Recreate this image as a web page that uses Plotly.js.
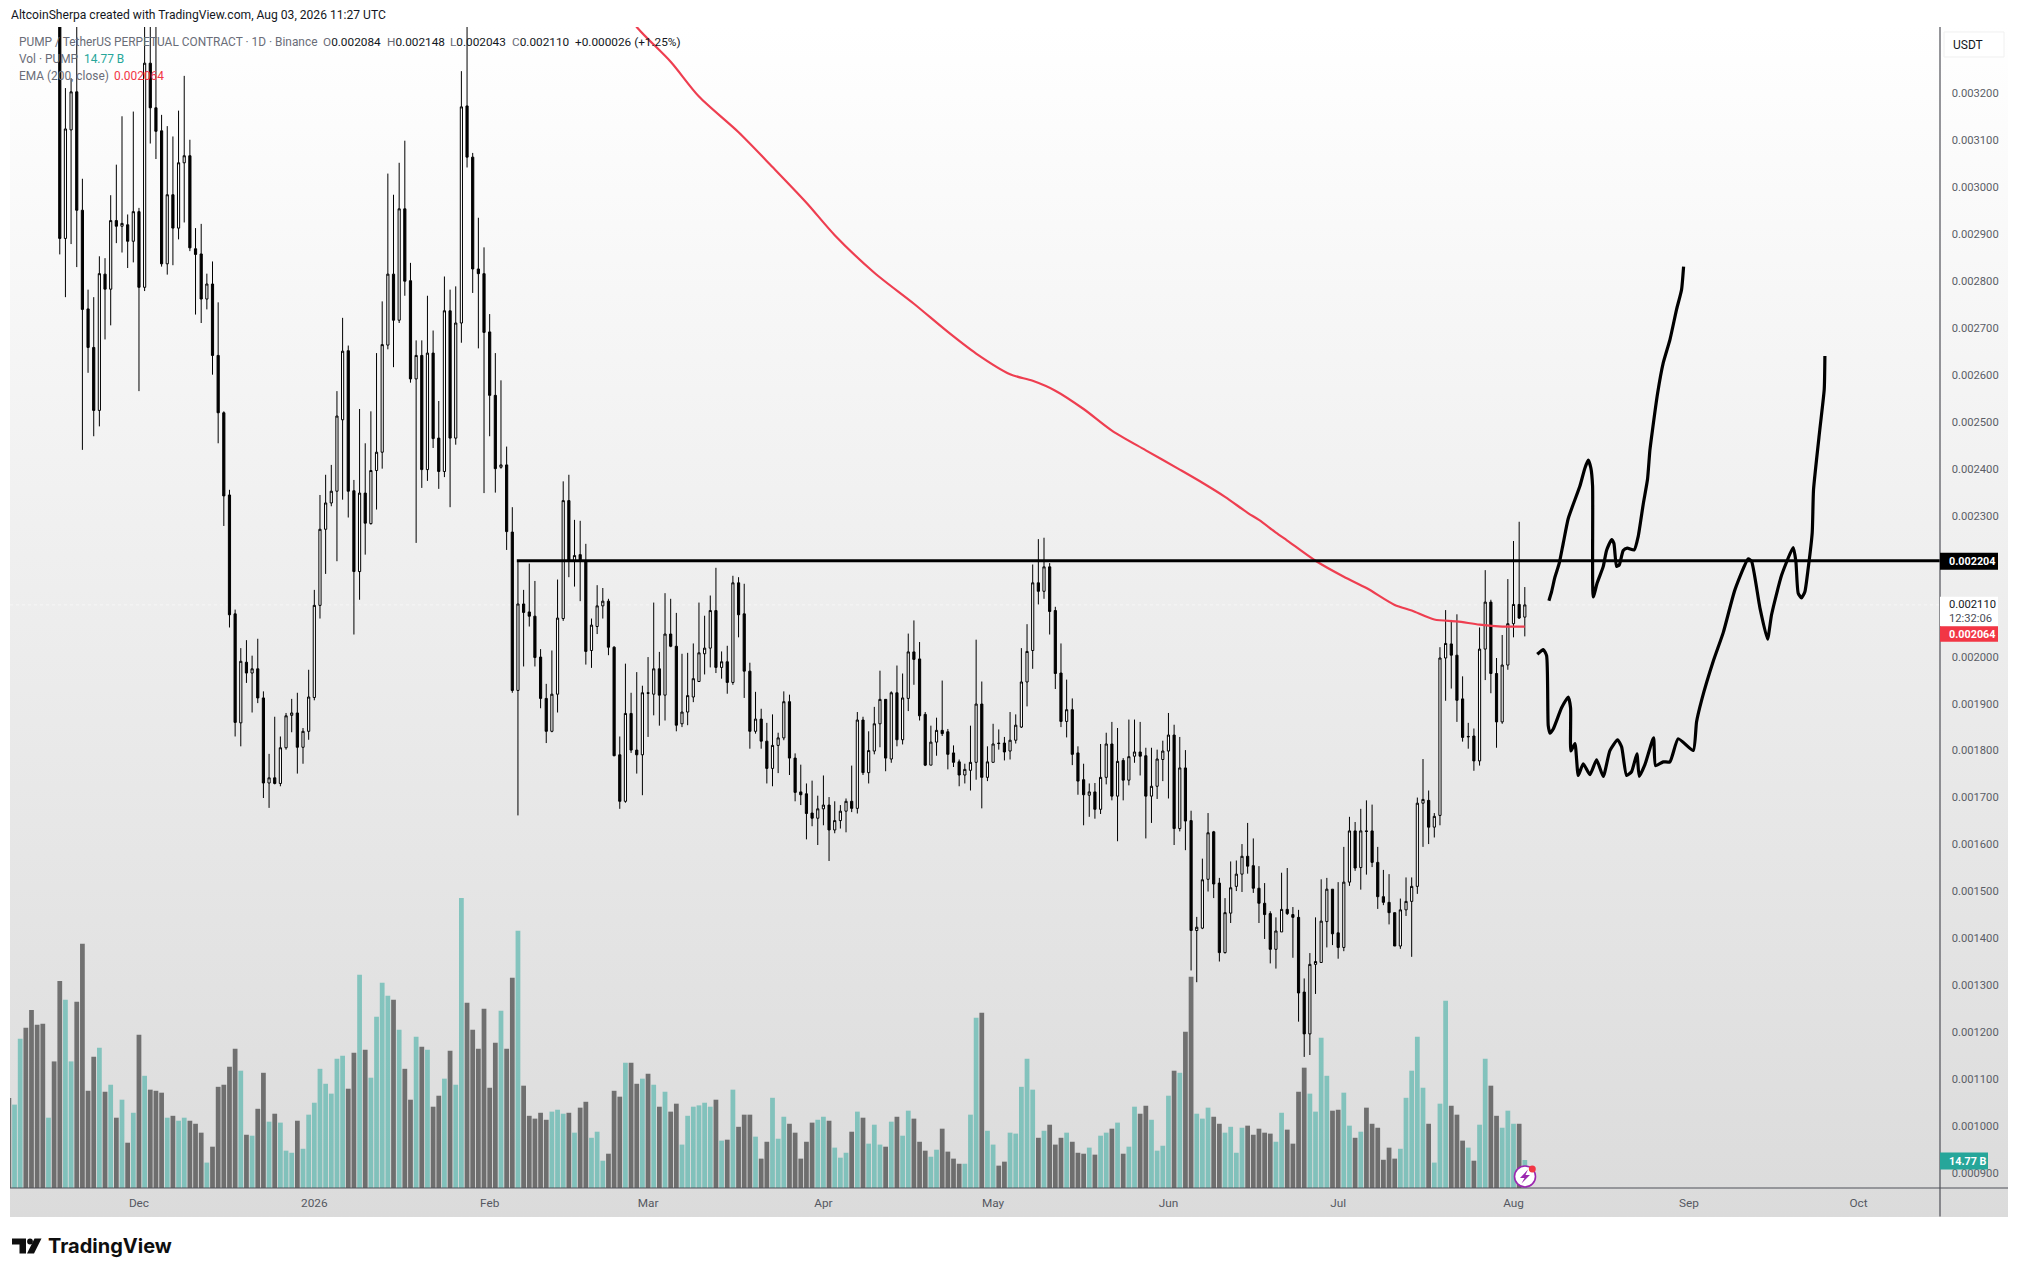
<!DOCTYPE html>
<html>
<head>
<meta charset="utf-8">
<script src="https://cdn.plot.ly/plotly-3.0.1.min.js"></script>
<style>
html,body{margin:0;padding:0;background:#fff;width:2018px;height:1277px;overflow:hidden}
#bg{position:absolute;left:10px;top:27px;width:1998px;height:1190px;background:linear-gradient(to bottom,#ffffff 0%,#dbdbdb 100%)}
#chart{position:absolute;left:0;top:0;width:2018px;height:1277px}
</style>
</head>
<body>
<div id="bg"></div>
<div id="chart"></div>
<script>
// first bar is 2025-11-08 (day -23 counted from 2025-12-01); last bar is 2026-08-03
const firstDay = -23;
// prices in millionths of USDT
const open = [
4300,4150,4300,4450,4200,4000,3850,3700,3900,3600,
2890,3121,3202,2950,2740,2658,2524,2814,2782,2928,2916,2919,2884,
2947,2786,3263,3168,3119,2836,2983,2912,3051,3066,
2868,2857,2761,2793,2641,2519,2344,2091,1859,1988,
1965,1974,1912,1731,1742,1730,1806,1875,1880,1807,
1841,1913,2109,2271,2327,2352,2504,2651,2353,2181,
2348,2283,2396,2435,2663,2814,2716,2953,2800,2591,
2641,2398,2646,2465,2394,2736,2465,2710,3172,3063,
2825,2815,2691,2556,2403,2408,2265,1928,2112,2095,
2086,1999,1911,1841,1920,2081,2332,2203,2217,2203,
2013,2064,2108,2118,2020,1791,1692,1879,1801,1791,
1923,1920,1974,1918,2048,2022,1857,1882,1914,1947,
2006,2018,2098,1977,1989,1945,2157,2091,1969,1841,
1867,1820,1762,1811,1827,1904,1784,1712,1708,1667,
1656,1676,1684,1631,1651,1671,1692,1677,1865,1753,
1799,1857,1909,1782,1923,1823,1911,2010,1995,1877,
1769,1818,1843,1840,1795,1776,1748,1758,1775,1899,
1743,1775,1816,1816,1799,1822,1850,1946,2013,2157,
2139,2191,2098,1965,1862,1887,1795,1738,1705,1712,
1675,1743,1814,1703,1779,1737,1788,1797,1789,1703,
1724,1781,1799,1833,1634,1763,1651,1417,1422,1526,
1627,1518,1370,1454,1511,1537,1575,1555,1507,1475,
1453,1377,1414,1462,1451,1445,1286,1197,1345,1349,
1436,1505,1412,1381,1520,1629,1551,1629,1629,1562,
1489,1477,1455,1384,1461,1479,1511,1688,1694,1637,
1662,1997,2027,2003,1910,1829,1831,1778,2016,2116,
1964,1861,1982,2070,2111,2084];
const high = [
4380,4350,4520,4480,4250,4060,3900,3950,3950,3640,
3210,3231,3400,3017,2781,2765,2852,2848,2982,3047,3150,2941,3160,
2955,3360,3370,3345,3153,3129,3107,3162,3236,3100,
2912,2921,2815,2841,2754,2522,2355,2100,2018,2035,
2002,2038,1926,1793,1872,1830,1880,1910,1923,1848,
1972,2142,2344,2387,2408,2565,2721,2662,2376,2527,
2454,2522,2646,2756,3028,2983,3051,3098,2838,2673,
2673,2768,2694,2544,2809,2781,2788,3246,3420,3072,
2934,2871,2729,2646,2588,2447,2318,2203,2142,2198,
2161,2016,1942,2013,2164,2373,2387,2291,2289,2240,
2081,2152,2146,2123,2022,1830,1985,1923,1967,1938,
1999,2115,2010,2135,2123,2093,2006,2008,2028,2115,
2087,2130,2189,2011,2023,2172,2169,2155,1987,1925,
1889,1859,1877,1838,1926,1919,1794,1770,1730,1736,
1704,1747,1701,1692,1684,1698,1768,1882,1872,1841,
1893,1970,1909,1926,1981,1964,2049,2077,2031,1882,
1853,1870,1949,1846,1811,1781,1772,1853,2036,1947,
1809,1857,1845,1829,1882,1877,2018,2069,2196,2250,
2253,2199,2106,2028,1951,1911,1809,1772,1730,1731,
1814,1838,1861,1848,1784,1866,1866,1861,1806,1806,
1802,1821,1880,1855,1829,1801,1672,1446,1570,1667,
1629,1529,1486,1564,1566,1601,1646,1613,1554,1518,
1458,1445,1540,1550,1467,1461,1315,1369,1445,1526,
1529,1505,1520,1595,1659,1648,1676,1694,1685,1595,
1546,1537,1455,1485,1530,1530,1700,1782,1715,1667,
2020,2099,2078,2090,1958,1859,1847,2062,2184,2121,
1997,2046,2165,2246,2287,2148];
const low = [
4100,4100,4250,4150,3950,3800,3650,3650,3550,2856,
2765,2878,2829,2440,2604,2469,2490,2675,2705,2880,2860,2827,2839,
2565,2778,3092,3059,2830,2813,2833,2888,2924,2863,
2728,2710,2739,2600,2454,2278,2062,1830,1809,1944,
1881,1901,1699,1678,1728,1724,1802,1839,1751,1772,
1823,1907,2081,2176,2320,2203,2334,2296,2047,2121,
2217,2281,2313,2400,2654,2616,2710,2768,2583,2242,
2359,2374,2444,2357,2382,2318,2451,2668,3041,2774,
2656,2348,2469,2349,2400,2227,1923,1662,1979,2064,
1979,1890,1816,1839,1881,2076,2169,2149,2118,1983,
1976,2048,2081,2003,1788,1676,1689,1795,1751,1705,
1829,1875,1853,1864,2020,1841,1850,1854,1903,1947,
1962,1977,1965,1953,1921,1940,2041,1912,1804,1836,
1804,1730,1724,1752,1822,1748,1692,1684,1611,1639,
1599,1641,1565,1624,1634,1626,1669,1666,1748,1730,
1792,1807,1756,1774,1809,1813,1884,1940,1864,1767,
1769,1789,1831,1760,1765,1724,1730,1715,1738,1677,
1735,1775,1802,1779,1781,1815,1848,1894,1974,2111,
2123,2047,1931,1850,1828,1769,1706,1641,1659,1655,
1665,1728,1694,1607,1694,1726,1774,1747,1613,1646,
1697,1735,1698,1599,1628,1588,1332,1307,1420,1500,
1486,1351,1368,1433,1501,1499,1538,1497,1433,1399,
1347,1336,1414,1450,1359,1223,1148,1152,1282,1349,
1381,1386,1357,1373,1512,1544,1504,1536,1552,1463,
1471,1430,1384,1378,1448,1361,1495,1595,1601,1615,
1641,1906,1932,1861,1819,1804,1757,1768,1950,1922,
1806,1857,1972,2041,2080,2043];
const close = [
4150,4300,4450,4200,4000,3850,3700,3900,3600,2890,
3123,3202,2950,2739,2658,2524,2815,2782,2928,2916,2922,2884,2947,
2786,3263,3168,3118,2836,2983,2912,3051,3066,2870,
2856,2761,2793,2641,2519,2342,2089,1860,1990,1965,
1974,1912,1731,1742,1730,1806,1874,1880,1807,1841,
1914,2109,2271,2327,2352,2512,2650,2352,2181,2348,
2284,2396,2435,2664,2814,2716,2953,2799,2591,2641,
2398,2646,2464,2394,2736,2465,2710,3170,3063,2825,
2815,2690,2556,2400,2408,2266,1928,2112,2094,2086,
1998,1911,1841,1920,2082,2332,2203,2215,2204,2011,
2067,2108,2118,2020,1789,1692,1879,1801,1791,1923,
1922,1974,1918,2048,2022,1854,1882,1917,1953,2008,
2018,2098,1977,1989,1945,2157,2089,1969,1841,1867,
1820,1762,1811,1827,1904,1784,1711,1706,1666,1656,
1676,1684,1631,1651,1671,1692,1677,1865,1753,1800,
1857,1909,1784,1923,1823,1912,2010,1994,1874,1769,
1818,1843,1836,1792,1775,1748,1760,1775,1899,1743,
1776,1814,1815,1797,1822,1854,1946,2011,2157,2139,
2191,2096,1964,1862,1887,1792,1735,1706,1712,1675,
1743,1814,1703,1777,1737,1787,1797,1788,1703,1724,
1782,1799,1833,1634,1763,1650,1417,1424,1525,1625,
1516,1370,1455,1508,1537,1575,1554,1507,1475,1451,
1377,1416,1462,1453,1445,1284,1197,1345,1351,1437,
1505,1410,1381,1520,1629,1550,1629,1628,1562,1489,
1477,1455,1384,1461,1479,1511,1688,1696,1637,1660,
1997,2028,2003,1907,1828,1830,1778,2016,2116,1964,
1861,1982,2070,2111,2082,2110];
// volume in billions of PUMP
const volume = [
47.5,44,78.8,84.6,94,86.1,86.7,37.1,66.8,109.3,99.3,66.8,98.3,128.9,51.3,69.3,74,50.8,54.5,37.1,46.6,23.9,39.7,
80.9,59.2,51.9,51.3,50.3,37.1,38.1,35.5,37.1,35.5,33.9,29.2,13.4,21.8,53.4,54.5,64,73.5,61.9,28.1,27.6,41.8,60.8,35,39.2,34.5,19.7,18.6,35.5,20.7,
38.7,45,62.9,55,49.8,68.2,69.8,52.4,71.4,112.5,73,58.2,90.4,108.3,101.4,99.3,83.5,62.9,46.6,79.8,74.5,73,42.9,48.7,57.7,72.4,54.5,153.1,97.7,83.5,
73.5,94.6,52.9,76.6,93.5,73.5,110.9,135.7,54,38.1,36.6,39.7,36,40.3,41.3,39.2,39.7,29.2,42.4,45.5,26.5,29.7,14.4,18.1,51.3,48.2,66.1,66.1,55,57.7,
60.3,54.5,42.9,50.8,40.3,44.5,22.9,38.1,42.9,43.6,45,42.9,46.6,25,25.5,51.9,32.3,38.7,38.7,27.1,15.5,24.4,47.6,26,37.6,33.9,29.2,15.5,24.4,34.5,
36,37.6,35.5,21.3,16,18.6,29.7,40.3,37.1,23.4,33.4,22.9,21.8,35,37.6,27.6,40.8,36.6,24.4,19.7,16.5,20.2,31.3,19.2,15.5,12.8,12.8,38.7,89.8,92.5,
30.2,22.9,11.8,13.9,29.2,28.7,53.4,68.2,51.9,26.5,30.2,33.4,22.9,26.5,29.2,24.4,18.6,18.1,21.3,17.6,27.6,29.2,31.3,34.5,18.1,21.8,42.9,39.2,43.4,36,
19.7,22.3,48.7,61.9,60.8,82.5,111.5,39.2,36.6,42.4,37.6,33.9,29.2,32.3,18.6,31.8,32.9,28.1,31.3,29.2,28.7,24.4,39.7,30.8,23.4,50.8,63.5,49.8,40.3,79.3,
59.2,40.8,41.3,50.3,32.9,26.5,29.7,42.4,33.9,31.8,14.9,21.3,15.5,20.7,47.6,61.9,79.8,52.9,33.9,13.4,44.5,98.8,43.4,38.7,25,21.3,14.4,33.4,68.2,54,
38.1,31.8,40.8,33.9,33.9,14.77];
// EMA(200), read at sampled days
const emaDays = [86,88,94,99,106,112,118,123,130,137,143,148,154,158,162,167,172,178,184,188,192,196,198,201,203,208,213,217,222,225,229,233,237,241,245];
const emaPrice = [3378,3340,3266,3192,3116,3042,2966,2897,2817,2751,2691,2645,2601,2587,2566,2527,2481,2439,2398,2370,2340,2306,2291,2264,2247,2204,2170,2146,2110,2098,2079,2075,2068,2064,2064];
// horizontal level
const levelDays = [66.8,318.4];
const levelPrice = [2204,2204];
// hand-drawn path, upper
const upperDays = [249.26,249.73,250.32,251.09,251.79,252.68,254.74,255.62,256.21,256.68,256.98,257.10,257.80,258.87,259.45,260.34,260.75,261.22,261.69,262.40,263.11,264.34,265.05,265.94,266.70,267.11,267.59,268.47,269.47,270.65,271.83,272.71,273.07];
const upperPrice = [2119,2138,2169,2199,2241,2294,2363,2401,2418,2401,2363,2127,2157,2192,2226,2249,2241,2192,2195,2226,2231,2227,2256,2325,2378,2439,2484,2560,2625,2674,2739,2781,2830];
// hand-drawn path, lower
const lowerDays = [247.2,248.26,248.85,249.14,249.44,250.03,251.5,252.68,253.09,253.15,253.86,254.45,255.33,256.51,257.69,258.87,260.04,261.4,262.11,262.99,263.87,264.82,265.23,266.23,267.76,268.12,269.47,270.65,272.12,274.77,275.36,276.25,278.31,280.08,282.14,284.5,285.08,286.56,287.91,288.62,290.39,292.45,292.92,293.33,293.92,294.51,295.1,295.81,296.04,297.16,297.93,298.05];
const lowerPrice = [2005,2015,2002,1853,1837,1846,1891,1914,1891,1799,1815,1747,1772,1749,1780,1745,1800,1823,1808,1747,1755,1793,1745,1770,1827,1768,1776,1776,1825,1800,1861,1907,1990,2051,2142,2208,2203,2104,2037,2089,2173,2232,2203,2135,2125,2138,2188,2264,2355,2484,2568,2640];
// axis labels
const monthTicks = ['2025-12-01','2026-01-01','2026-02-01','2026-03-01','2026-04-01','2026-05-01','2026-06-01','2026-07-01','2026-08-01','2026-09-01','2026-10-01'];
const monthLabels = ['Dec','2026','Feb','Mar','Apr','May','Jun','Jul','Aug','Sep','Oct'];
const priceTicks = [900,1000,1100,1200,1300,1400,1500,1600,1700,1800,1900,2000,2300,2400,2500,2600,2700,2800,2900,3000,3100,3200];
const priceLabels = ['0.000900','0.001000','0.001100','0.001200','0.001300','0.001400','0.001500','0.001600','0.001700','0.001800','0.001900','0.002000','0.002300','0.002400','0.002500','0.002600','0.002700','0.002800','0.002900','0.003000','0.003100','0.003200'];

const DAY = 86400000, BASE = Date.UTC(2025, 11, 1);
const toMs = d => BASE + d * DAY;
const toPx = p => p / 1e6;
const barX = open.map((_, i) => toMs(firstDay + i));
const UP_VOL = 'rgba(38,166,154,0.5)', DOWN_VOL = 'rgba(0,0,0,0.5)';
const volColor = open.map((o, i) => close[i] >= o ? UP_VOL : DOWN_VOL);

// page pixels to paper fractions
const L = 10, R = 1940, T = 27, B = 1188.5;
const fx = x => (x - L) / (R - L);
const fy = y => 1 - (y - T) / (B - T);
const P = pts => pts.map((p, i) => (i ? 'L' : 'M') + fx(p[0]).toFixed(5) + ',' + fy(p[1]).toFixed(5)).join(' ') + ' Z';

const traces = [
  {type:'bar', x:barX, y:volume, marker:{color:volColor, line:{width:0}}, xaxis:'x', yaxis:'y', hoverinfo:'skip'},
  {type:'candlestick', x:barX, open:open.map(toPx), high:high.map(toPx), low:low.map(toPx), close:close.map(toPx),
   xaxis:'x', yaxis:'y2', whiskerwidth:0,
   increasing:{line:{color:'#000000', width:1}, fillcolor:'#ffffff'},
   decreasing:{line:{color:'#000000', width:1}, fillcolor:'#000000'}, hoverinfo:'skip'},
  {type:'scatter', mode:'lines', x:emaDays.map(toMs), y:emaPrice.map(toPx), yaxis:'y2', line:{color:'#ee3e50', width:2.2, shape:'spline', smoothing:0.8}, hoverinfo:'skip'},
  {type:'scatter', mode:'lines', x:levelDays.map(toMs), y:levelPrice.map(toPx), yaxis:'y2', line:{color:'#000000', width:3}, hoverinfo:'skip'},
  {type:'scatter', mode:'lines', x:upperDays.map(toMs), y:upperPrice.map(toPx), yaxis:'y2', line:{color:'#000000', width:3.2, shape:'spline', smoothing:0.5}, hoverinfo:'skip'},
  {type:'scatter', mode:'lines', x:lowerDays.map(toMs), y:lowerPrice.map(toPx), yaxis:'y2', line:{color:'#000000', width:3.2, shape:'spline', smoothing:0.5}, hoverinfo:'skip'}
];

const FONT = 'Roboto, sans-serif';
const GREY = '#6a6d78';
function label(x, y, text, color, size, extra) {
  return Object.assign({xref:'paper', yref:'paper', x:fx(x), y:fy(y), text:text, showarrow:false, xanchor:'left', yanchor:'middle',
    font:{family:FONT, size:size, color:color}, borderpad:0}, extra || {});
}

const annotations = [
  label(10, 15, 'AltcoinSherpa created with TradingView.com, Aug 03, 2026 11:27 UTC', '#131722', 12.1),
  label(18, 42, 'PUMP / TetherUS PERPETUAL CONTRACT · 1D · Binance', GREY, 11.9),
  label(322, 42, '<span style="color:#6a6d78">O</span>0.002084', '#131722', 11.8),
  label(386, 42, '<span style="color:#6a6d78">H</span>0.002148', '#131722', 11.8),
  label(449, 42, '<span style="color:#6a6d78">L</span>0.002043', '#131722', 11.8),
  label(511, 42, '<span style="color:#6a6d78">C</span>0.002110', '#131722', 11.8),
  label(574, 42, '+0.000026 (+1.25%)', '#131722', 11.8),
  label(18, 59, 'Vol · PUMP', GREY, 11.9),
  label(83, 59, '14.77 B', '#26a69a', 11.9),
  label(18, 76, 'EMA (200, close)', GREY, 11.9),
  label(113, 76, '0.002064', '#f23645', 11.9),
  label(1952, 45, 'USDT', '#131722', 12),
  label(46.5, 1247, '<b>TradingView</b>', '#0f0f0f', 20, {font:{family:'Inter, sans-serif', size:20, color:'#0f0f0f'}}),
  label(1948.5, 561.5, '<b>0.002204</b>', '#ffffff', 10.8),
  label(1948.5, 605, '0.002110', '#131722', 11.2),
  label(1948.5, 619, '12:32:06', '#4a4d57', 11.2),
  label(1948.5, 634.5, '<b>0.002064</b>', '#ffffff', 10.8),
  label(1948.5, 1162, '<b>14.77 B</b>', '#ffffff', 10.8)
];

const rect = (x0, y0, x1, y1, fill, line, layer) => ({type:'rect', xref:'paper', yref:'paper', x0:fx(x0), x1:fx(x1), y0:fy(y0), y1:fy(y1),
  fillcolor:fill, line:{width: line ? 1 : 0, color: line || fill}, layer:layer || 'above'});
const circle = (cx, cy, r, fill, line, w) => ({type:'circle', xref:'paper', yref:'paper', x0:fx(cx - r), x1:fx(cx + r), y0:fy(cy - r), y1:fy(cy + r),
  fillcolor:fill, line:{width:w || 0, color:line || fill}});

const shapes = [
  // last price dotted guide
  {type:'line', xref:'paper', yref:'y2', x0:0, x1:1, y0:0.00211, y1:0.00211, opacity:0.55, line:{color:'#ffffff', width:1, dash:'dot'}, layer:'below'},
  // scales
  {type:'line', xref:'paper', yref:'paper', x0:fx(R), x1:fx(R), y0:fy(27), y1:fy(1217), line:{color:'#4f5058', width:1.2}},
  {type:'line', xref:'paper', yref:'paper', x0:fx(10), x1:fx(2008), y0:fy(B), y1:fy(B), line:{color:'#4f5058', width:1.2}},
  // USDT button
  rect(1944, 32, 2004, 57, 'rgba(255,255,255,0.7)', '#f0f0f0'),
  // price scale tags
  rect(1940, 553, 1998, 570, '#000000'),
  rect(1940, 597, 1998, 626.5, '#ffffff'),
  rect(1940, 626.5, 1998, 642, '#f23645'),
  rect(1940, 1153, 1988, 1170, '#26a69a'),
  // lightning badge
  circle(1525, 1177, 10.5, '#ffffff', '#9c27b0', 1.6),
  {type:'path', xref:'paper', yref:'paper', path:P([[1528,1170],[1520,1178.5],[1524.5,1178.5],[1521.5,1184],[1530,1175.5],[1525.5,1175.5]]), fillcolor:'#9c27b0', line:{width:0}},
  circle(1532.3, 1169.5, 3.5, '#f23645'),
  // TradingView mark
  {type:'path', xref:'paper', yref:'paper', path:P([[12,1239],[26,1239],[26,1254],[19.5,1254],[19.5,1245],[12,1245]]), fillcolor:'#0f0f0f', line:{width:0}},
  circle(30, 1242, 2.9, '#0f0f0f'),
  {type:'path', xref:'paper', yref:'paper', path:P([[34.5,1239],[41.5,1239],[34,1254],[27,1254]]), fillcolor:'#0f0f0f', line:{width:0}}
];

const layout = {
  width:2018, height:1277,
  paper_bgcolor:'rgba(0,0,0,0)', plot_bgcolor:'rgba(0,0,0,0)',
  margin:{l:L, r:2018 - R, t:T, b:1277 - B, pad:0},
  showlegend:false, bargap:0.16, boxgap:0.45, dragmode:false, hovermode:false,
  xaxis:{type:'date', range:[toMs(-22.8), toMs(318.4)], showgrid:false, zeroline:false, showline:false,
    rangeslider:{visible:false}, tickmode:'array', tickvals:monthTicks, ticktext:monthLabels,
    ticks:'outside', ticklen:3.5, tickcolor:'rgba(0,0,0,0)', tickfont:{family:FONT, size:11.8, color:'#555861'}},
  yaxis:{range:[0, 612.7], visible:false, fixedrange:true},
  yaxis2:{overlaying:'y', side:'right', range:[0.000869, 0.003340], showgrid:false, zeroline:false, showline:false,
    tickmode:'array', tickvals:priceTicks.map(toPx), ticktext:priceLabels,
    ticks:'outside', ticklen:8.5, tickcolor:'rgba(0,0,0,0)', tickfont:{family:FONT, size:11.2, color:'#5a5d66'}},
  annotations:annotations, shapes:shapes
};
Plotly.newPlot('chart', traces, layout, {staticPlot:true, displayModeBar:false});
</script>
</body>
</html>
